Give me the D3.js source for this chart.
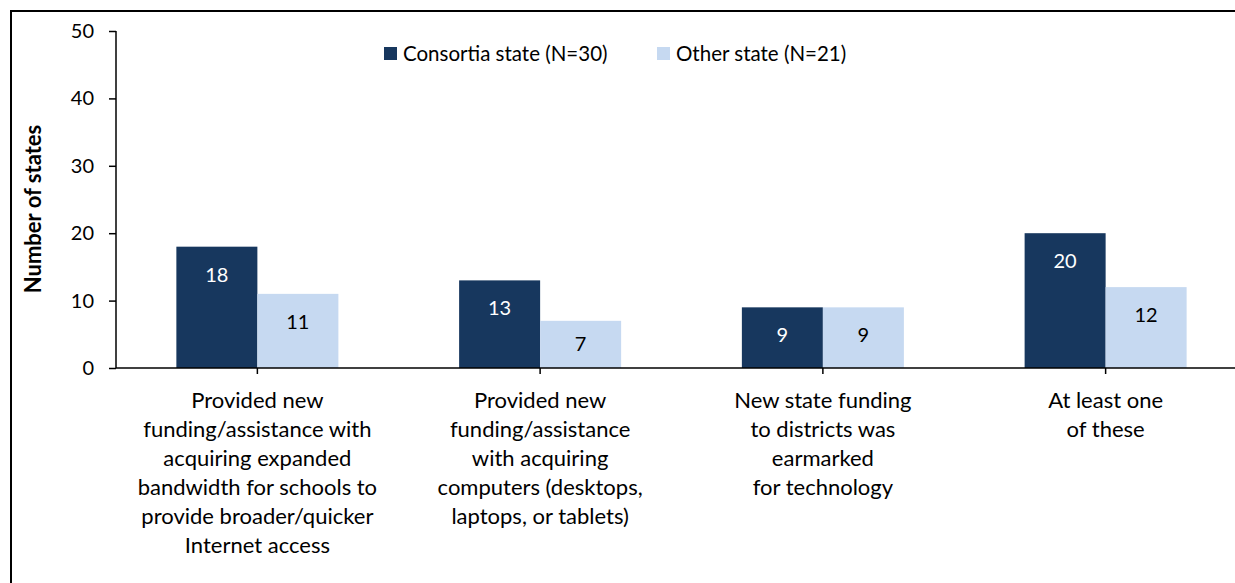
<!DOCTYPE html>
<html>
<head>
<meta charset="utf-8">
<script src="https://d3js.org/d3.v7.min.js"></script>
<style>
  body { margin: 0; background: #fff; }
  text { font-family: Lato, "Open Sans", sans-serif; }
</style>
</head>
<body>
<svg id="svg" width="1235" height="583"></svg>
<script>
// chart values
var categories = ['bandwidth', 'computers', 'earmarked', 'any']
var categoryLines = [
    ['Provided new', 'funding/assistance with', 'acquiring expanded', 'bandwidth for schools to', 'provide broader/quicker', 'Internet access'],
    ['Provided new', 'funding/assistance', 'with acquiring', 'computers (desktops,', 'laptops, or tablets)'],
    ['New state funding', 'to districts was', 'earmarked', 'for technology'],
    ['At least one', 'of these']
]
var seriesNames = ['Consortia state (N=30)', 'Other state (N=21)']
var consortia = [18, 13, 9, 20]
var other = [11, 7, 9, 12]
var yTicks = [0, 10, 20, 30, 40, 50]

var colors = ['#17375e', '#c6d9f1']
var labelColors = ['#ffffff', '#000000']

var svg = d3.select('#svg')

// outer frame (right and bottom edges fall outside the picture)
svg.append('rect')
    .attr('x', 11).attr('y', 11)
    .attr('width', 1400).attr('height', 800)
    .attr('fill', 'none')
    .attr('stroke', '#000')
    .attr('stroke-width', 2)

var x = d3.scaleBand()
    .domain(categories)
    .range([116, 1247])
    .paddingInner(0.427)
    .paddingOuter(0.2135)

var xs = d3.scaleBand()
    .domain([0, 1])
    .range([0, x.bandwidth()])

var y = d3.scaleLinear()
    .domain([0, 50])
    .range([368, 31])

// bars
var series = [consortia, other]
series.forEach(function(values, s) {

    var g = svg.append('g')

    g.selectAll('rect')
        .data(values)
        .enter().append('rect')
        .attr('x', function(d, i) { return x(categories[i]) + xs(s) })
        .attr('y', function(d) { return y(d) })
        .attr('width', xs.bandwidth())
        .attr('height', function(d) { return y(0) - y(d) })
        .attr('fill', colors[s])

    g.selectAll('text')
        .data(values)
        .enter().append('text')
        .attr('x', function(d, i) { return x(categories[i]) + xs(s) + xs.bandwidth() / 2 })
        .attr('y', function(d) {
            var top = y(d)
            return Math.min(top + 28, (top + y(0)) / 2)
        })
        .attr('dy', '0.35em')
        .attr('text-anchor', 'middle')
        .attr('font-size', 20)
        .attr('fill', labelColors[s])
        .text(function(d) { return d })
})

// y axis
var yAxis = svg.append('g')
    .attr('transform', 'translate(116,0)')
    .call(d3.axisLeft(y).tickValues(yTicks).tickSize(7).tickPadding(15))

yAxis.select('.domain').attr('stroke', '#000').attr('stroke-width', 1.5)
    .attr('d', 'M0,' + y(50) + 'V' + y(0))
yAxis.selectAll('.tick line').attr('stroke', '#000').attr('stroke-width', 1.5)
yAxis.selectAll('.tick text')
    .attr('font-size', 20)
    .attr('fill', '#000')
    .style('font-family', 'Lato, sans-serif')

// x axis
var xAxis = svg.append('g')
    .attr('transform', 'translate(0,' + y(0) + ')')
    .call(d3.axisBottom(x).tickSize(6).tickFormat(''))

xAxis.select('.domain').attr('stroke', '#000').attr('stroke-width', 1.5)
    .attr('d', 'M116,0H1247')
xAxis.selectAll('.tick line').attr('stroke', '#000').attr('stroke-width', 1.5)

// category labels
categories.forEach(function(c, i) {

    var t = svg.append('text')
        .attr('text-anchor', 'middle')
        .attr('font-size', 22)
        .attr('fill', '#000')

    categoryLines[i].forEach(function(line, k) {
        t.append('tspan')
            .attr('x', x(c) + x.bandwidth() / 2)
            .attr('y', 408 + k * 29)
            .text(line)
    })
})

// y title
svg.append('text')
    .attr('transform', 'translate(41,209) rotate(-90)')
    .attr('text-anchor', 'middle')
    .attr('font-size', 22)
    .attr('font-weight', 'bold')
    .attr('fill', '#000')
    .text('Number of states')

// legend
var legendX = [384, 657]
seriesNames.forEach(function(name, s) {

    svg.append('rect')
        .attr('x', legendX[s]).attr('y', 47)
        .attr('width', 13).attr('height', 13)
        .attr('fill', colors[s])

    svg.append('text')
        .attr('x', legendX[s] + 19)
        .attr('y', 54)
        .attr('dy', '0.35em')
        .attr('font-size', 20.5)
        .attr('fill', '#000')
        .text(name)
})
</script>
</body>
</html>
